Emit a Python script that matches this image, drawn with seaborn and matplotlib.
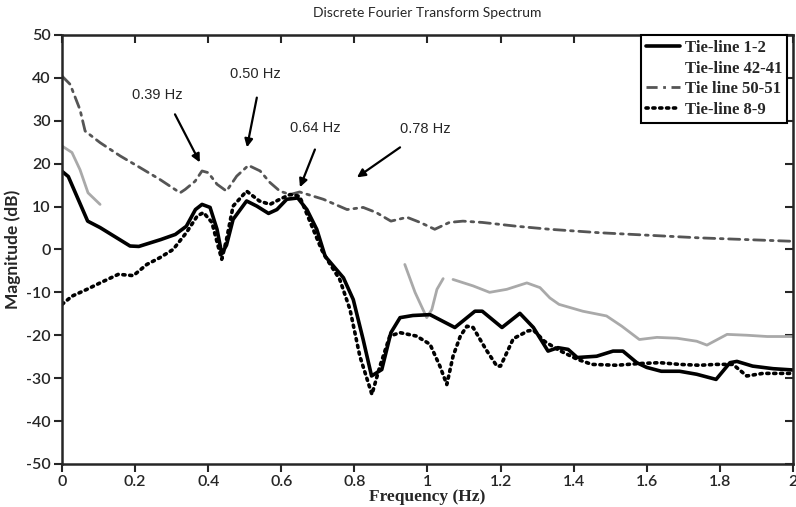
import numpy as np
import pandas as pd
import matplotlib
matplotlib.use("Agg")
import matplotlib.pyplot as plt
from matplotlib.lines import Line2D
import seaborn as sns

# ---------------- data ----------------
f_12 = [0.0, 0.017, 0.07, 0.104, 0.186, 0.21, 0.27, 0.31, 0.34, 0.365, 0.383, 0.405, 0.424,
        0.437, 0.45, 0.468, 0.505, 0.533, 0.565, 0.588, 0.615, 0.645, 0.67, 0.697, 0.72,
        0.77, 0.797, 0.824, 0.847, 0.875, 0.9, 0.925, 0.96, 1.007, 1.075, 1.13, 1.15, 1.204,
        1.253, 1.29, 1.33, 1.357, 1.385, 1.41, 1.463, 1.508, 1.535, 1.573, 1.6, 1.64, 1.69,
        1.737, 1.79, 1.828, 1.847, 1.89, 1.946, 2.0]
m_12 = [18.2, 17.0, 6.6, 5.1, 0.8, 0.7, 2.3, 3.5, 5.4, 9.3, 10.5, 9.8, 4.7,
        -1.0, 1.0, 7.0, 11.3, 10.1, 8.4, 9.3, 11.7, 12.0, 9.3, 4.7, -1.6,
        -6.6, -11.7, -21.0, -29.5, -28.0, -19.4, -15.9, -15.4, -15.2, -18.2, -14.4, -14.4, -18.2,
        -14.9, -18.2, -23.7, -22.9, -23.3, -25.2, -24.9, -23.7, -23.7, -26.4, -27.5, -28.4, -28.4,
        -29.1, -30.3, -26.4, -26.1, -27.2, -27.8, -28.1]

f_89 = [0.0, 0.027, 0.068, 0.104, 0.154, 0.195, 0.232, 0.268, 0.304, 0.34, 0.37, 0.387, 0.41,
        0.427, 0.437, 0.45, 0.468, 0.505, 0.54, 0.569, 0.596, 0.624, 0.65, 0.71, 0.725, 0.76,
        0.788, 0.815, 0.848, 0.87, 0.897, 0.925, 0.97, 1.007, 1.034, 1.053, 1.07, 1.09, 1.108,
        1.125, 1.16, 1.19, 1.2, 1.235, 1.275, 1.29, 1.32, 1.36, 1.41, 1.45, 1.518, 1.58,
        1.636, 1.69, 1.745, 1.79, 1.836, 1.874, 1.918, 2.0]
m_89 = [-12.8, -10.9, -9.3, -7.8, -5.8, -6.1, -3.5, -1.9, 0.0, 3.9, 7.8, 8.6, 6.3,
        0.8, -2.3, 2.3, 10.1, 13.6, 11.3, 10.5, 11.7, 12.8, 12.4, 0.0, -2.3, -7.0,
        -14.0, -24.9, -33.8, -27.2, -20.2, -19.4, -20.2, -22.1, -27.2, -31.5, -24.9, -20.2, -17.9,
        -18.2, -23.3, -27.2, -27.2, -20.8, -19.0, -18.8, -21.4, -23.5, -25.6, -26.8, -27.0, -26.6,
        -26.4, -26.8, -27.0, -26.8, -26.8, -29.5, -28.9, -28.9]

f_5051 = [0.0, 0.022, 0.049, 0.063, 0.104, 0.159, 0.213, 0.268, 0.323, 0.337, 0.364, 0.383,
          0.4, 0.424, 0.45, 0.478, 0.51, 0.542, 0.569, 0.596, 0.624, 0.65, 0.715, 0.78,
          0.824, 0.86, 0.9, 0.944, 0.98, 1.02, 1.06, 1.097, 1.15, 1.245, 1.335, 1.47,
          1.745, 2.0]
m_5051 = [40.4, 38.5, 32.6, 27.6, 24.9, 21.8, 19.1, 16.3, 13.2, 14.0, 15.9, 18.3,
          17.9, 15.2, 13.6, 17.1, 19.6, 18.3, 15.6, 13.6, 12.8, 13.4, 11.7, 9.3,
          9.8, 8.6, 6.6, 7.5, 6.3, 4.7, 6.3, 6.6, 6.3, 5.4, 4.7, 3.9,
          2.7, 1.9]

# Tie-line 42-41 is drawn in three separate pieces
f_4241_a = [0.0, 0.027, 0.049, 0.071, 0.104]
m_4241_a = [24.1, 22.6, 18.6, 13.2, 10.5]
f_4241_b = [0.938, 0.966, 0.998, 1.012, 1.026, 1.043]
m_4241_b = [-3.5, -10.0, -15.9, -14.0, -9.3, -6.8]
f_4241_c = [1.07, 1.125, 1.17, 1.217, 1.272, 1.308, 1.335, 1.36, 1.425, 1.49, 1.532,
            1.58, 1.628, 1.683, 1.737, 1.765, 1.82, 1.874, 1.93, 2.0]
m_4241_c = [-7.0, -8.5, -10.0, -9.3, -7.8, -8.9, -11.3, -12.8, -14.4, -15.5, -17.9,
            -21.0, -20.5, -20.7, -21.4, -22.3, -19.8, -20.0, -20.3, -20.3]

labels = ["Tie-line 1-2", "Tie-line 42-41", "Tie line 50-51", "Tie-line 8-9"]
annot_text = ["0.39 Hz", "0.50 Hz", "0.64 Hz", "0.78 Hz"]
annot_text_xy = [(0.26, 35.9), (0.528, 40.8), (0.692, 28.4), (0.993, 28.0)]
annot_tail = [(0.309, 31.5), (0.533, 35.4), (0.692, 23.3), (0.925, 23.8)]
annot_head = [(0.377, 20.3), (0.506, 23.8), (0.651, 14.5), (0.807, 16.8)]

x_ticks = [0, 0.2, 0.4, 0.6, 0.8, 1.0, 1.2, 1.4, 1.6, 1.8, 2.0]
x_tick_labels = ["0", "0.2", "0.4", "0.6", "0.8", "1", "1.2", "1.4", "1.6", "1.8", "2"]
y_ticks = list(range(-50, 51, 10))

# ---------------- plot ----------------
sns.set_style("ticks")
plt.rcParams['font.family'] = ['Lato', 'DejaVu Sans']
plt.rcParams['axes.unicode_minus'] = False

fig = plt.figure(figsize=(7.96, 5.07), dpi=100)
ax = fig.add_axes([0.078, 0.085, 0.918, 0.846])

df4241 = pd.DataFrame({
    "f": f_4241_a + f_4241_b + f_4241_c,
    "m": m_4241_a + m_4241_b + m_4241_c,
    "seg": [0] * len(f_4241_a) + [1] * len(f_4241_b) + [2] * len(f_4241_c),
})

DASHDOT = (0, (4, 2, 1, 2))
DOTTED = (0, (0.6, 1.3))

sns.lineplot(data=df4241, x="f", y="m", units="seg", estimator=None, sort=False,
             color="#a9a9a9", linewidth=2.0, ax=ax, legend=False)
sns.lineplot(x=f_5051, y=m_5051, sort=False, color="#555555", linewidth=2.0,
             linestyle=DASHDOT, ax=ax, legend=False)
sns.lineplot(x=f_89, y=m_89, sort=False, color="black", linewidth=2.6,
             linestyle=DOTTED, ax=ax, legend=False)
sns.lineplot(x=f_12, y=m_12, sort=False, color="black", linewidth=2.6, ax=ax, legend=False)

for line in ax.lines:
    line.set_dash_capstyle("round")

ax.set_xlim(0, 2)
ax.set_ylim(-50, 50)
ax.set_xticks(x_ticks)
ax.set_xticklabels(x_tick_labels)
ax.set_yticks(y_ticks)
for s in ax.spines.values():
    s.set_linewidth(1.8)
    s.set_visible(True)
ax.tick_params(axis="both", direction="out", length=6, width=1.5, labelsize=11.5, pad=2)
for lbl in ax.get_xticklabels() + ax.get_yticklabels():
    lbl.set_fontweight("semibold")

top = ax.secondary_xaxis("top")
top.set_xticks(x_ticks)
top.tick_params(direction="in", length=6, width=1.5, labeltop=False)
right = ax.secondary_yaxis("right")
right.set_yticks(y_ticks)
right.tick_params(direction="in", length=6, width=1.5, labelright=False)

ax.set_xlabel("Frequency (Hz)", fontsize=12.5, fontweight="bold", labelpad=0,
              family=["Liberation Serif", "DejaVu Serif"])
ax.set_ylabel("Magnitude (dB)", fontsize=12.5, fontweight="bold", labelpad=4)
ax.set_title("Discrete Fourier Transform Spectrum", fontsize=10, pad=13)

for txt, txy, tail, head in zip(annot_text, annot_text_xy, annot_tail, annot_head):
    ax.text(txy[0], txy[1], txt, ha="center", va="center", fontsize=10.5,
            family=["Liberation Sans", "DejaVu Sans"])
    ax.annotate("", xy=head, xytext=tail,
                arrowprops=dict(arrowstyle="-|>", color="black", lw=1.6,
                                mutation_scale=12, shrinkA=0, shrinkB=0))

handles = [
    Line2D([], [], color="black", linewidth=2.6),
    Line2D([], [], color="white", linewidth=2.0, alpha=0.0),
    Line2D([], [], color="#555555", linewidth=2.0, linestyle=DASHDOT),
    Line2D([], [], color="black", linewidth=2.6, linestyle=DOTTED, dash_capstyle="round"),
]
leg = ax.legend(handles, labels, loc="upper right", bbox_to_anchor=(0.992, 1.0),
                frameon=True, fancybox=False,
                edgecolor="black", borderaxespad=0.0, handlelength=2.0,
                handletextpad=0.3, labelspacing=0.28, borderpad=0.3,
                prop={"family": "Liberation Serif", "weight": "bold", "size": 12})
leg.get_frame().set_linewidth(1.5)
leg.get_frame().set_alpha(1.0)

fig.savefig("out.png", dpi=100)
